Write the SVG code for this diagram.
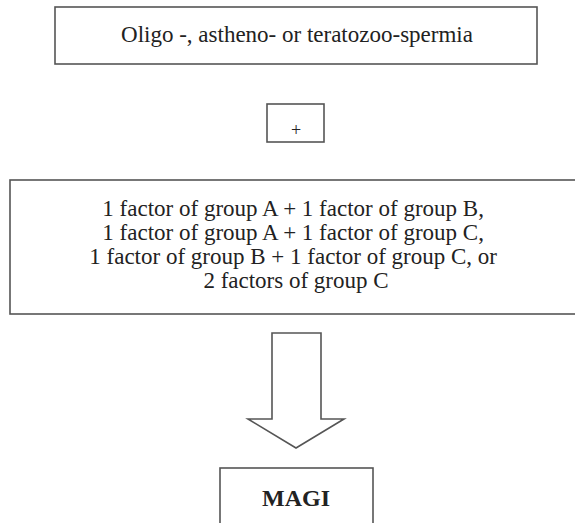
<svg xmlns="http://www.w3.org/2000/svg" width="575" height="523" viewBox="0 0 575 523">
<style>
.box{fill:#fff;stroke:#555;stroke-width:1.6}
.t{font-family:"Liberation Serif","Times New Roman",serif;fill:#222;text-anchor:middle}
</style>
<rect width="575" height="523" fill="#fff"/>
<g id="n-top">
<rect class="box" x="55" y="7" width="482" height="57"/>
<text class="t" x="297" y="42" font-size="23">Oligo -, astheno- or teratozoo-spermia</text>
</g>
<g id="n-plus">
<rect class="box" x="267" y="104" width="57" height="38"/>
<text class="t" x="296" y="136" font-size="18">+</text>
</g>
<g id="n-factors">
<rect class="box" x="10" y="180" width="580" height="134"/>
<text class="t" font-size="23">
<tspan x="296" y="216">1 factor of group A + 1 factor of group B,</tspan>
<tspan x="296" y="240">1 factor of group A + 1 factor of group C,</tspan>
<tspan x="296" y="264">1 factor of group B + 1 factor of group C, or</tspan>
<tspan x="296" y="288">2 factors of group C</tspan>
</text>
</g>
<g id="connectors">
<path class="box" d="M272 333 H321 V419 H344 L296 448 L248 419 H272 Z"/>
</g>
<g id="n-magi">
<rect class="box" x="220" y="468" width="153" height="70"/>
<text class="t" x="296" y="506" font-size="24" font-weight="bold">MAGI</text>
</g>
</svg>
